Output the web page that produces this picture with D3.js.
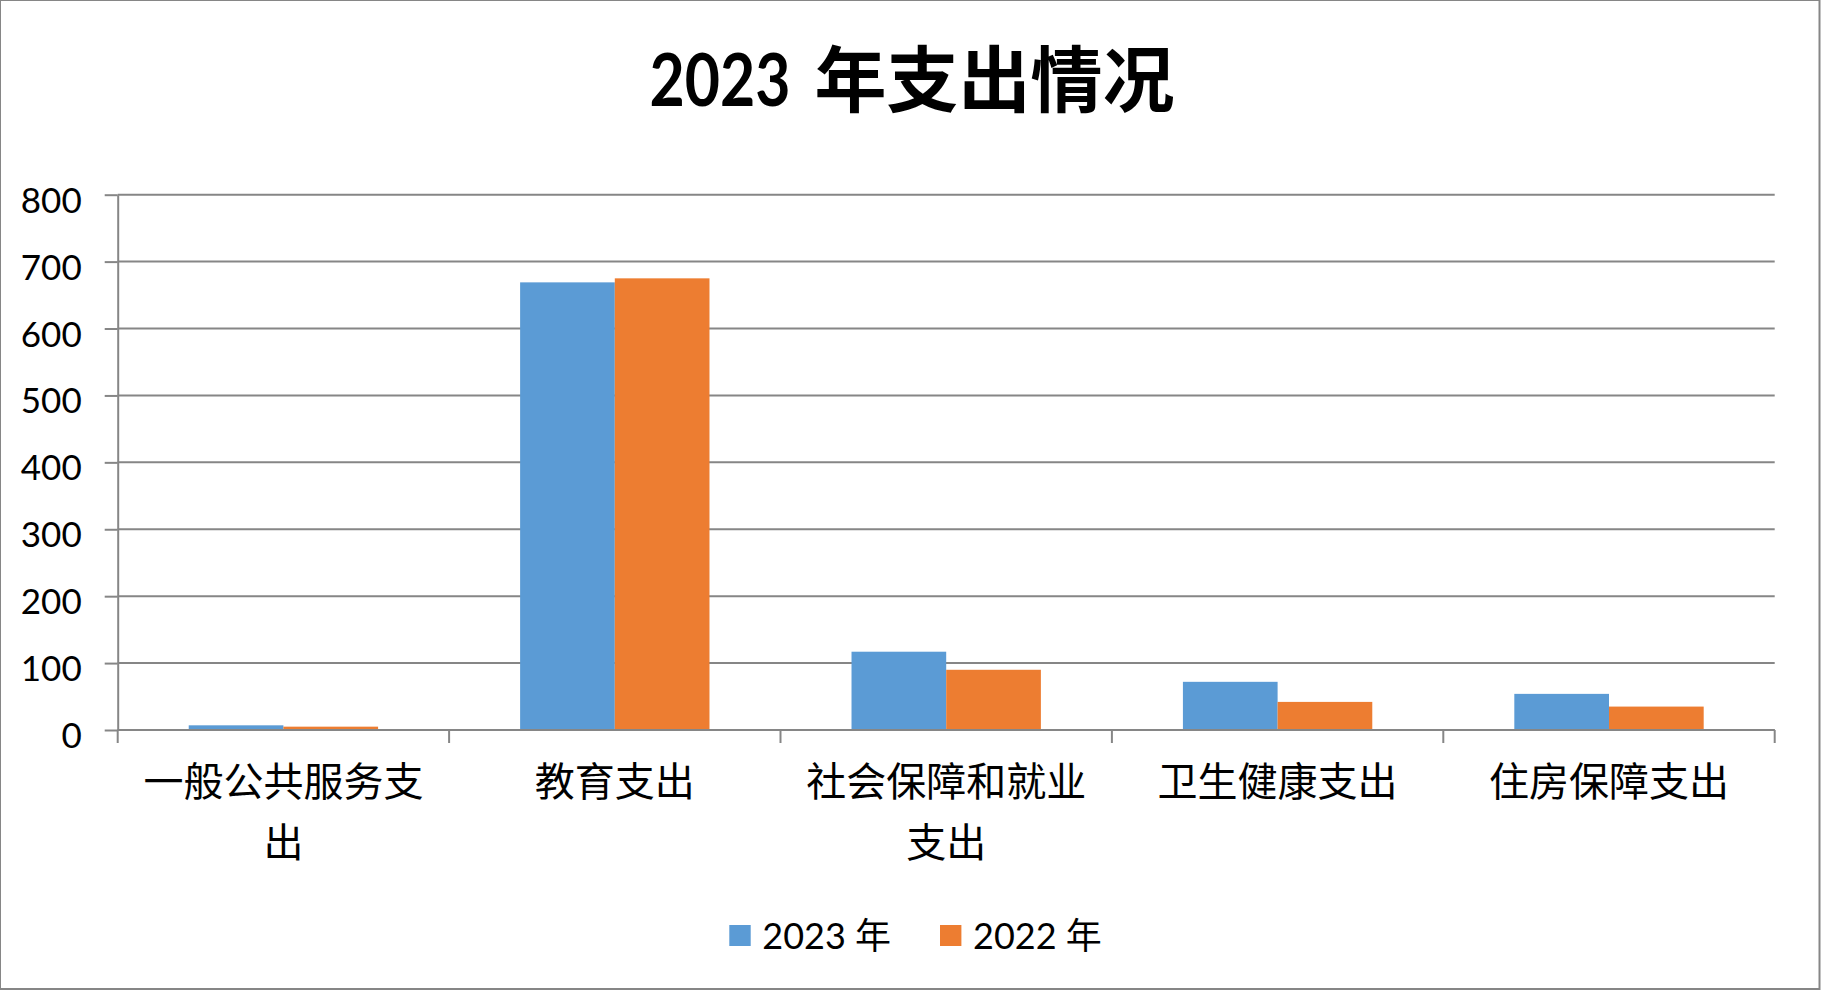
<!DOCTYPE html>
<html>
<head>
<meta charset="utf-8">
<script src="https://cdn.jsdelivr.net/npm/d3@7"></script>
<style>
  html, body { margin: 0; padding: 0; background: #fff; }
  svg { display: block; }
</style>
</head>
<body>
<svg id="chart" width="1824" height="996"></svg>
<script>
// ---- data ----
const titleYear = "2023";
const titleRest = "年支出情况";
const categories = ["一般公共服务支出", "教育支出", "社会保障和就业支出", "卫生健康支出", "住房保障支出"];
const seriesNames = ["2023 年", "2022 年"];
const values2023 = [7, 669, 117, 72, 54];
const values2022 = [5, 675, 90, 42, 35];
const yTicks = [0, 100, 200, 300, 400, 500, 600, 700, 800];
const colors = ["#5B9BD5", "#ED7D31"];

// ---- layout ----
const svg = d3.select("#chart");
const W = 1824, H = 996;
const plot = { left: 117.7, right: 1774.7, top: 194.7, bottom: 730 };
const axisColor = "#868686";
const latin = "Lato, 'Noto Sans CJK SC', sans-serif";
const cjk = "'Noto Sans CJK SC', sans-serif";

svg.append("rect").attr("width", W).attr("height", H).attr("fill", "#fff");
svg.append("rect").attr("x", 0).attr("y", 0).attr("width", 1819.5).attr("height", 989)
  .attr("fill", "none").attr("stroke", axisColor).attr("stroke-width", 2);

const x0 = d3.scaleBand().domain(categories).range([plot.left, plot.right]).paddingInner(0).paddingOuter(0);
const x1 = d3.scaleBand().domain(seriesNames).range([0, x0.bandwidth()]).paddingInner(0).paddingOuter(0.75);
const y = d3.scaleLinear().domain([0, 800]).range([plot.bottom, plot.top]);

// ---- title ----
const title = svg.append("g");
const tY = 106;
const tA = title.append("text").text(titleYear)
  .attr("font-family", "Lato, sans-serif").attr("font-weight", "bold")
  .attr("font-size", 72).attr("textLength", 141).attr("lengthAdjust", "spacingAndGlyphs")
  .attr("y", tY);
const tB = title.append("text").text(titleRest)
  .attr("font-family", cjk).attr("font-weight", "bold")
  .attr("font-size", 72).attr("y", tY);
const wA = 141, gap = 24, wB = tB.node().getComputedTextLength();
const total = wA + gap + wB;
const startX = 912 - total / 2;
tA.attr("x", startX);
tB.attr("x", startX + wA + gap);

// ---- gridlines ----
svg.append("g")
  .selectAll("line").data(yTicks).join("line")
  .attr("x1", plot.left).attr("x2", plot.right)
  .attr("y1", d => y(d)).attr("y2", d => y(d))
  .attr("stroke", axisColor).attr("stroke-width", 2);

// ---- bars ----
const seriesData = [values2023, values2022];
const barG = svg.append("g");
seriesNames.forEach((s, si) => {
  barG.append("g").selectAll("rect")
    .data(categories.map((c, i) => ({ c, v: seriesData[si][i] })))
    .join("rect")
    .attr("x", d => x0(d.c) + x1(s))
    .attr("width", x1.bandwidth())
    .attr("y", d => y(d.v))
    .attr("height", d => y(0) - y(d.v))
    .attr("fill", colors[si]);
});

// ---- y axis ----
const yAxis = svg.append("g").attr("transform", `translate(${plot.left},0)`)
  .call(d3.axisLeft(y).tickValues(yTicks).tickSize(13).tickPadding(23).tickSizeOuter(0));
yAxis.select(".domain").attr("stroke", axisColor).attr("stroke-width", 2);
yAxis.selectAll(".tick line").attr("stroke", axisColor).attr("stroke-width", 2);
yAxis.selectAll(".tick text").attr("font-family", latin).attr("font-size", 35)
  .attr("fill", "#000").attr("dy", "0.5em");

// ---- x axis ----
const xAxis = svg.append("g");
xAxis.append("line").attr("x1", plot.left).attr("x2", plot.right)
  .attr("y1", y(0)).attr("y2", y(0)).attr("stroke", axisColor).attr("stroke-width", 2);
const bounds = categories.map(c => x0(c)).concat([x0.range()[1]]);
xAxis.selectAll(".xt").data(bounds).join("line").attr("class", "xt")
  .attr("x1", d => d).attr("x2", d => d)
  .attr("y1", y(0)).attr("y2", y(0) + 13)
  .attr("stroke", axisColor).attr("stroke-width", 2);

// category labels, wrapped at 7 characters
const maxChars = 7;
categories.forEach(c => {
  const lines = [];
  for (let i = 0; i < c.length; i += maxChars) lines.push(c.slice(i, i + maxChars));
  const t = xAxis.append("text").attr("font-family", cjk).attr("font-size", 40)
    .attr("text-anchor", "middle").attr("fill", "#000");
  lines.forEach((ln, li) => {
    t.append("tspan").attr("x", x0(c) + x0.bandwidth() / 2).attr("y", 796 + li * 61).text(ln);
  });
});

// ---- legend ----
const legend = svg.append("g");
const legendX = [729.3, 940];
seriesNames.forEach((s, i) => {
  legend.append("rect").attr("x", legendX[i]).attr("y", 925).attr("width", 21.4).attr("height", 21)
    .attr("fill", colors[i]);
  legend.append("text").attr("x", legendX[i] + 33).attr("y", 949)
    .attr("font-family", latin).attr("font-size", 36).attr("fill", "#000").text(s);
});
</script>
</body>
</html>
